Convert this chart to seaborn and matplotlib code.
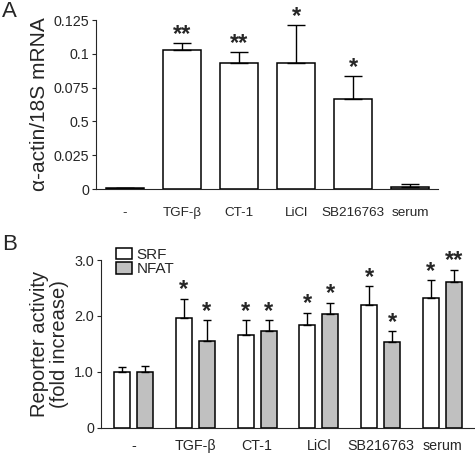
import numpy as np
import pandas as pd
import matplotlib.pyplot as plt
import seaborn as sns

sns.set_style("ticks")
plt.rcParams['font.family'] = ['Liberation Sans', 'DejaVu Sans']

# panel A data
treatments = ['-', 'TGF-β', 'CT-1', 'LiCl', 'SB216763', 'serum']
actin = [0.0006, 0.1028, 0.0934, 0.0930, 0.0663, 0.0017]
actin_err = [0.0005, 0.0050, 0.0082, 0.0285, 0.0175, 0.0018]
actin_stars = ['', '**', '**', '*', '*', '']
a_ticks = [0, 0.025, 0.05, 0.075, 0.1, 0.125]
a_ticklabels = ['0', '0.025', '0.5', '0.075', '0.1', '0.125']

# panel B data
srf = [1.00, 1.96, 1.65, 1.83, 2.20, 2.32]
srf_err = [0.09, 0.35, 0.27, 0.23, 0.33, 0.32]
srf_stars = ['', '*', '*', '*', '*', '*']
nfat = [1.00, 1.56, 1.73, 2.03, 1.53, 2.60]
nfat_err = [0.10, 0.37, 0.20, 0.21, 0.20, 0.23]
nfat_stars = ['', '*', '*', '*', '*', '**']
b_ticks = [0, 1, 2, 3]
b_ticklabels = ['0', '1.0', '2.0', '3.0']

grey = '#c0c0c0'

fig = plt.figure(figsize=(4.75, 4.57), dpi=100)
axA = fig.add_axes([0.202, 0.5864, 0.720, 0.3698])
axB = fig.add_axes([0.2126, 0.0641, 0.7874, 0.3669])

# ---- panel A
dfA = pd.DataFrame({'treatment': treatments, 'value': actin})
sns.barplot(data=dfA, x='treatment', y='value', ax=axA, width=0.667,
            color='white', edgecolor='black', linewidth=1.1, errorbar=None)
axA.patches[-1].set_facecolor(grey)
xA = [p.get_x() + p.get_width() / 2 for p in axA.patches]
axA.errorbar(xA, actin, yerr=[np.zeros(len(actin)), actin_err], fmt='none',
             ecolor='black', elinewidth=1.0, capsize=6.5, capthick=1.0)
for x, v, e, s in zip(xA, actin, actin_err, actin_stars):
    if s:
        axA.text(x, v + e - 0.0022, s, ha='center', va='bottom',
                 fontsize=17, fontweight='bold')
axA.set_xlim(-0.51, 5.49)
axA.set_ylim(0, 0.125)
axA.set_yticks(a_ticks)
axA.set_yticklabels(a_ticklabels)
axA.set_ylabel('α-actin/18S mRNA', fontsize=15, labelpad=3)
axA.set_xlabel('')
axA.tick_params(axis='x', length=0, pad=13, labelsize=9.7)
axA.tick_params(axis='y', labelsize=10.3, length=3, width=0.8, pad=2)
sns.despine(ax=axA)

# ---- panel B
dfB = pd.DataFrame({'treatment': treatments * 2,
                    'value': srf + nfat,
                    'reporter': ['SRF'] * 6 + ['NFAT'] * 6})
sns.barplot(data=dfB, x='treatment', y='value', hue='reporter', ax=axB,
            palette={'SRF': 'white', 'NFAT': grey}, width=0.744, gap=0.3,
            edgecolor='black', linewidth=1.1, errorbar=None)
bars = [p for p in axB.patches if p.get_height() > 0]
for group, vals, errs, stars in [(bars[:6], srf, srf_err, srf_stars),
                                 (bars[6:12], nfat, nfat_err, nfat_stars)]:
    xs = [p.get_x() + p.get_width() / 2 for p in group]
    axB.errorbar(xs, vals, yerr=[np.zeros(len(vals)), errs], fmt='none',
                 ecolor='black', elinewidth=1.0, capsize=2.8, capthick=1.0)
    for x, v, e, s in zip(xs, vals, errs, stars):
        if s:
            axB.text(x, v + e - 0.05, s, ha='center', va='bottom',
                     fontsize=17, fontweight='bold')
axB.set_xlim(-0.526, 5.526)
axB.set_ylim(0, 3.0)
axB.set_yticks(b_ticks)
axB.set_yticklabels(b_ticklabels)
axB.set_ylabel('Reporter activity\n(fold increase)', fontsize=14.5,
               labelpad=4, linespacing=1.05)
axB.set_xlabel('')
axB.tick_params(axis='x', length=0, pad=8, labelsize=10.3)
axB.tick_params(axis='y', labelsize=10.3, length=3, width=0.8, pad=2)
axB.legend(loc='upper left', bbox_to_anchor=(0.025, 1.11), frameon=False,
           fontsize=11, handlelength=1.0, handleheight=0.8,
           handletextpad=0.3, labelspacing=0.0, borderaxespad=0)
sns.despine(ax=axB)

fig.text(0.004, 0.975, 'A', fontsize=16, va='center')
fig.text(0.004, 0.465, 'B', fontsize=16, va='center')

fig.savefig('out.png', dpi=100)
